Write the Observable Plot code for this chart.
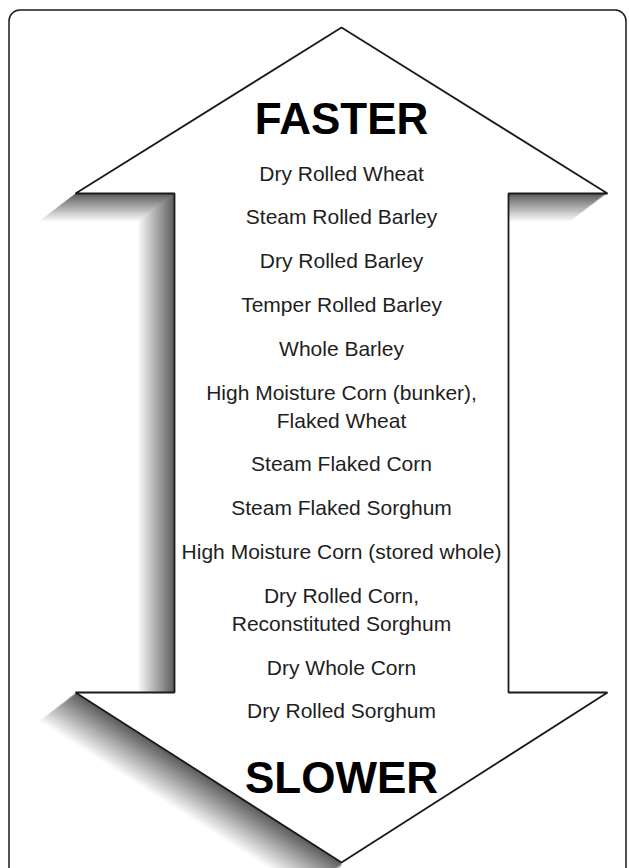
<!DOCTYPE html>
<html>
<head>
<meta charset="utf-8">
<script src="https://cdn.jsdelivr.net/npm/d3@7"></script>
<script src="https://cdn.jsdelivr.net/npm/@observablehq/plot@0.6"></script>
<style>
  html, body { margin: 0; padding: 0; background: #fff; }
  #chart svg { display: block; }
</style>
</head>
<body>
<div id="chart"></div>
<script>
// ---- DATA ----
// Grains ranked by rate of starch digestion (fastest first)
const grains = [
  "Dry Rolled Wheat",
  "Steam Rolled Barley",
  "Dry Rolled Barley",
  "Temper Rolled Barley",
  "Whole Barley",
  "High Moisture Corn (bunker),\nFlaked Wheat",
  "Steam Flaked Corn",
  "Steam Flaked Sorghum",
  "High Moisture Corn (stored whole)",
  "Dry Rolled Corn,\nReconstituted Sorghum",
  "Dry Whole Corn",
  "Dry Rolled Sorghum"
];
const extremes = ["FASTER", "SLOWER"];

// ---- LAYOUT ----
const W = 629, H = 868;
const cx = 341;
const geom = {tipTop: 27, headTop: 193, headBottom: 692, tipBottom: 862, headHalf: 266, shaftHalf: 167};
const shadowOffset = {dx: -38, dy: 29};
const firstBaseline = 180, rowStep = 43.8, lineStep = 28, fontSize = 21;

const outline = [
  [cx, geom.tipTop],
  [cx + geom.headHalf, geom.headTop],
  [cx + geom.shaftHalf, geom.headTop],
  [cx + geom.shaftHalf, geom.headBottom],
  [cx + geom.headHalf, geom.headBottom],
  [cx, geom.tipBottom],
  [cx - geom.headHalf, geom.headBottom],
  [cx - geom.shaftHalf, geom.headBottom],
  [cx - geom.shaftHalf, geom.headTop],
  [cx - geom.headHalf, geom.headTop]
].map(([x, y]) => ({x, y}));

// shadow: stacked offset copies shading from dark (near) to white (far)
const N = 40;
const shadowMarks = [];
const shade = d3.interpolateRgb("#5a5a5a", "#ffffff");
for (let k = N; k >= 1; --k) {
  const t = k / N;
  const pts = outline.map(p => ({x: p.x + shadowOffset.dx * t, y: p.y + shadowOffset.dy * t}));
  shadowMarks.push(Plot.line(pts, {x: "x", y: "y", curve: "linear-closed", fill: shade(t), stroke: "none"}));
}
// keep the lower-right edge crisp (no shadow beyond it)
const mask = [
  {x: cx + geom.headHalf, y: geom.headBottom},
  {x: W + 20, y: geom.headBottom},
  {x: W + 20, y: H + 40},
  {x: cx, y: H + 40},
  {x: cx, y: geom.tipBottom}
];

// text rows: baseline of each item's last line
let extra = 0;
const rows = grains.map((label, i) => {
  const n = label.split("\n").length;
  extra += n - 1;
  return {label, yb: firstBaseline + rowStep * i + lineStep * extra};
});
const lastBaseline = rows[rows.length - 1].yb;
const heads = [
  {label: extremes[0], yb: firstBaseline - 47},
  {label: extremes[1], yb: lastBaseline + 75}
];

const font = "'Liberation Sans', Arial, Helvetica, sans-serif";

const chart = Plot.plot({
  width: W,
  height: H,
  margin: 0,
  x: {domain: [0, W], range: [0, W], axis: null},
  y: {domain: [0, H], range: [0, H], axis: null},
  marks: [
    ...shadowMarks,
    Plot.line(mask, {x: "x", y: "y", curve: "linear-closed", fill: "white", stroke: "none"}),
    Plot.line(outline, {x: "x", y: "y", curve: "linear-closed", fill: "white", stroke: "#1a1a1a", strokeWidth: 1.8, strokeLinejoin: "miter"}),
    Plot.rect([{x1: 9, x2: 626, y1: 10, y2: H + 40}], {x1: "x1", x2: "x2", y1: "y1", y2: "y2", rx: 11, fill: "none", stroke: "#1a1a1a", strokeWidth: 1.5}),
    Plot.text(rows, {x: () => cx, y: "yb", text: "label", lineAnchor: "bottom", lineHeight: lineStep / fontSize, fontSize, fontFamily: font, fill: "#1e1e1e"}),
    Plot.text(heads, {x: () => cx, y: "yb", text: "label", lineAnchor: "bottom", fontSize: 44, fontWeight: "bold", fontFamily: font, fill: "#000"})
  ]
});
document.getElementById("chart").appendChild(chart);
</script>
</body>
</html>
